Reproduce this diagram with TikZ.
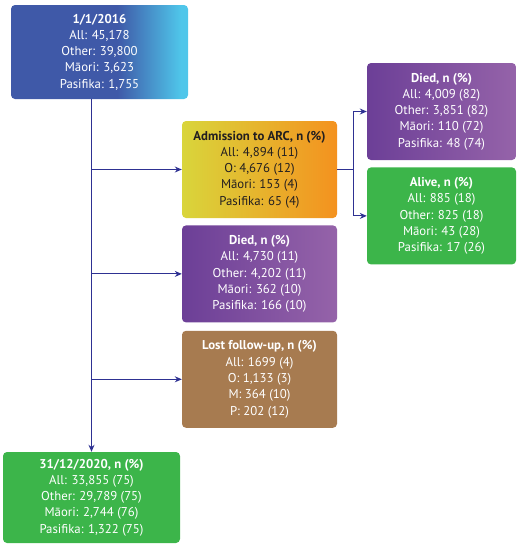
\documentclass[tikz,border=0pt]{standalone}
\usepackage{fontspec}
\setmainfont{PT Sans}
\usetikzlibrary{arrows.meta, positioning, calc}
\definecolor{startblue}{HTML}{3F59A8}
\definecolor{startcyan}{HTML}{4FC6EA}
\definecolor{arcyellow}{HTML}{D9D53B}
\definecolor{arcorange}{HTML}{F4921F}
\definecolor{diedleft}{HTML}{6C3F97}
\definecolor{diedright}{HTML}{9563A9}
\definecolor{alivegreen}{HTML}{3CB54A}
\definecolor{lostbrown}{HTML}{A77B50}
\definecolor{linkblue}{HTML}{2E3192}
\definecolor{darktext}{HTML}{231F20}
\pgfdeclarehorizontalshading{startshade}{100bp}{color(0bp)=(startblue); color(25bp)=(startblue); color(55bp)=(startblue); color(73bp)=(startcyan); color(100bp)=(startcyan)}
\tikzset{
    box/.style={rectangle, rounded corners=4pt, align=center, text=white, inner sep=0pt, font=\fontsize{12.8}{16.3}\selectfont, minimum width=155pt, minimum height=97pt},
    start box/.style={box, shading=startshade, minimum width=177pt, minimum height=94pt},
    arc box/.style={box, left color=arcyellow, right color=arcorange, text=darktext},
    died box/.style={box, left color=diedleft, right color=diedright},
    alive box/.style={box, fill=alivegreen},
    lost box/.style={box, fill=lostbrown},
    link/.style={draw=linkblue, line width=1.1pt},
    arr/.style={link, -{Stealth[length=7pt, width=6pt]}}
}

\begin{document}
\begin{tikzpicture}[x=1pt, y=-1pt]
    \useasboundingbox (0,0) rectangle (517,544);

    % Cohort boxes
    \node[start box] (start) at (99.5,52) {\textbf{1/1/2016}\\All: 45,178\\Other: 39,800\\Māori: 3,623\\Pasifika: 1,755};
    \node[arc box] (arc) at (259.5,169.5) {\textbf{Admission to ARC, n (\%)}\\All: 4,894 (11)\\O: 4,676 (12)\\Māori: 153 (4)\\Pasifika: 65 (4)};
    \node[died box, below=7pt of arc] (died) {\textbf{Died, n (\%)}\\All: 4,730 (11)\\Other: 4,202 (11)\\Māori: 362 (10)\\Pasifika: 166 (10)};
    \node[lost box, below=8pt of died] (lost) {\textbf{Lost follow-up, n (\%)}\\All: 1699 (4)\\O: 1,133 (3)\\M: 364 (10)\\P: 202 (12)};
    \node[alive box, minimum width=177pt, minimum height=91pt] (finish) at (91.5,497.5) {\textbf{31/12/2020, n (\%)}\\All: 33,855 (75)\\Other: 29,789 (75)\\Māori: 2,744 (76)\\Pasifika: 1,322 (75)};

    % After ARC admission
    \node[died box, minimum width=149pt] (arcdied) at (441.5,111.5) {\textbf{Died, n (\%)}\\All: 4,009 (82)\\Other: 3,851 (82)\\Māori: 110 (72)\\Pasifika: 48 (74)};
    \node[alive box, minimum width=149pt, below=7pt of arcdied] (arcalive) {\textbf{Alive, n (\%)}\\All: 885 (18)\\Other: 825 (18)\\Māori: 43 (28)\\Pasifika: 17 (26)};

    % Links
    \draw[arr] (start.south -| finish.north) -- (finish.north);
    \draw[arr] (arc.west -| finish.north) -- (arc.west);
    \draw[arr] (died.west -| finish.north) -- (died.west);
    \draw[arr] (lost.west -| finish.north) -- (lost.west);

    \draw[link] (arc.east) -- ++(16,0) coordinate (fork);
    \draw[arr] (fork) |- (arcdied.west);
    \draw[arr] (fork) |- (arcalive.west);
\end{tikzpicture}
\end{document}
